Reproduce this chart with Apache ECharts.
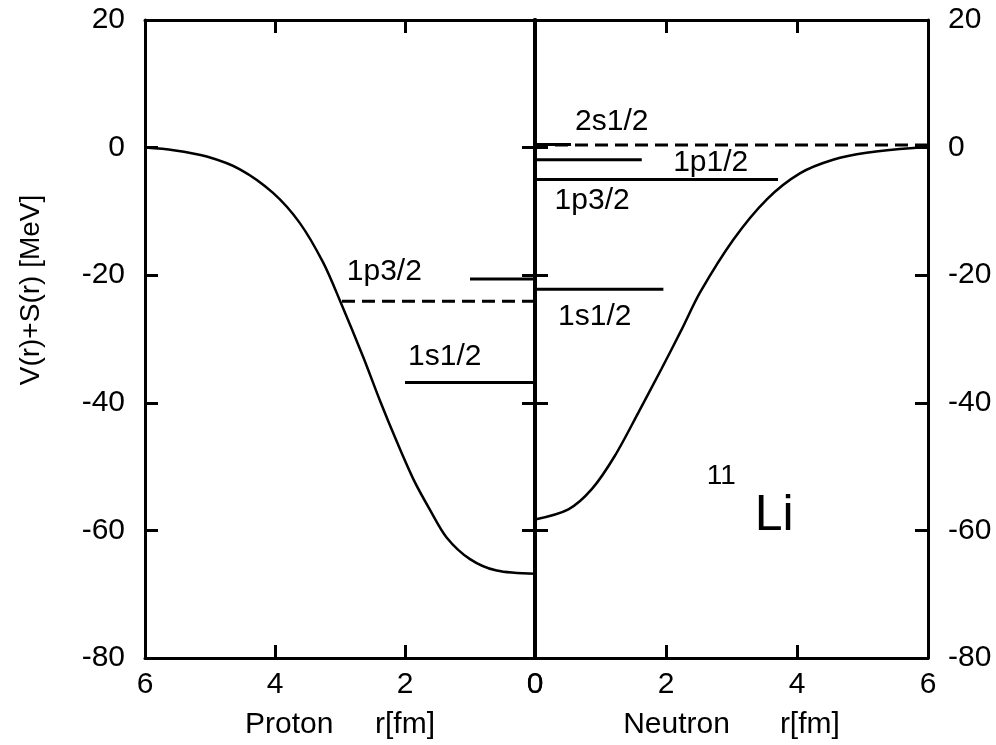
<!DOCTYPE html>
<html>
<head>
<meta charset="utf-8">
<script src="https://cdn.jsdelivr.net/npm/echarts@6/dist/echarts.min.js"></script>
<style>
  html, body { margin: 0; padding: 0; background: #fff; }
  #chart { width: 996px; height: 745px; }
</style>
</head>
<body>
<div id="chart"></div>
<script>
// potential V(r)+S(r) in MeV
const protonR = [6, 5.56, 5.05, 4.54, 4.03, 3.62, 3.26, 3.0, 2.64, 2.38, 2.13, 1.87, 1.62, 1.36, 1.0, 0.59, 0]
const protonV = [0, -0.4, -1.4, -3.4, -7.1, -11.8, -18.0, -24.0, -32.9, -39.8, -46.0, -52.0, -56.7, -61.1, -64.5, -66.3, -66.8]
const neutronR = [0, 0.51, 0.87, 1.22, 1.58, 1.93, 2.24, 2.52, 3.03, 3.54, 4.05, 4.55, 5.06, 5.78, 6]
const neutronV = [-58.3, -56.7, -53.5, -48.3, -41.5, -34.7, -28.5, -22.7, -14.4, -8.1, -4.0, -1.9, -0.8, -0.05, 0]

// levels: energy and how far out (fm) the bar is drawn
const protonSolidE = [-20.6, -36.8]
const protonSolidR = [1.0, 2.0]
const protonDashE = [-24.1]
const protonDashR = [3.0]
const neutronSolidE = [0.5, -1.9, -5.0, -22.2]
const neutronSolidR = [0.55, 1.63, 3.71, 1.96]
const neutronDashE = [0.4]
const neutronDashR = [6]

// level names and where they sit (r, E)
const protonLabels = ['1p3/2', '1s1/2']
const protonLabelAt = [[2.31, -19.6], [1.38, -32.9]]
const neutronLabels = ['2s1/2', '1p1/2', '1p3/2', '1s1/2']
const neutronLabelAt = [[1.18, 3.9], [2.69, -2.5], [0.88, -8.45], [0.92, -26.6]]
const nucleus = ['11', 'Li']
const nucleusAt = [[2.85, -51.6], [3.66, -57.9]]

const rTicks = [0, 2, 4, 6]
const eTicks = [-80, -60, -40, -20, 0, 20]

const FONT = '"Liberation Sans", Arial, Helvetica, sans-serif'
const chart = echarts.init(document.getElementById('chart'))

const tick = { show: true, inside: true, length: 13, lineStyle: { color: '#000', width: 3 } }

const xAx = (grid, pos, inverse, showLabel, name) => ({
  type: 'value', gridIndex: grid, position: pos, inverse,
  min: rTicks[0], max: rTicks[rTicks.length - 1], interval: 2,
  axisLine: { onZero: false, lineStyle: { color: '#000', width: 3 } },
  axisTick: tick,
  splitLine: { show: false },
  axisLabel: { show: showLabel, color: '#000', fontSize: 30, fontFamily: FONT, margin: 12 },
  name: name || '', nameLocation: 'middle', nameGap: 52,
  nameTextStyle: { color: '#000', fontSize: 30, fontFamily: FONT }
})

const yAx = (grid, pos, showLabel, width) => ({
  type: 'value', gridIndex: grid, position: pos,
  min: eTicks[0], max: eTicks[eTicks.length - 1], interval: 20,
  axisLine: { onZero: false, lineStyle: { color: '#000', width: width } },
  axisTick: tick,
  splitLine: { show: false },
  axisLabel: { show: showLabel, color: '#000', fontSize: 30, fontFamily: FONT, margin: 20 }
})

const pairs = (xs, ys) => xs.map((x, i) => [x, ys[i]])

const levelSeries = (xi, yi, es, rs, dashed) => es.map((e, i) => ({
  type: 'line', xAxisIndex: xi, yAxisIndex: yi, symbol: 'none', silent: true,
  data: [[0, e], [rs[i], e]],
  lineStyle: { color: '#000', width: 3, type: dashed ? [13, 7] : 'solid' }
}))

const labelSeries = (xi, yi, names, at, sizes) => ({
  type: 'scatter', xAxisIndex: xi, yAxisIndex: yi, symbolSize: 1, silent: true,
  itemStyle: { color: 'rgba(0,0,0,0)' },
  data: names.map((n, i) => ({
    name: n, value: at[i],
    label: { fontSize: sizes ? sizes[i] : 30, color: '#000' }
  })),
  label: {
    show: true, position: [0, 0], align: 'center', verticalAlign: 'middle',
    formatter: p => p.name, color: '#000', fontFamily: FONT, fontSize: 30,
    textBorderWidth: 0, textBorderColor: 'transparent', opacity: 1
  }
})

const option = {
  animation: false,
  backgroundColor: '#fff',
  grid: [
    { left: 145, top: 20, width: 390, height: 639 },
    { left: 535, top: 20, width: 393, height: 639 }
  ],
  xAxis: [
    xAx(0, 'bottom', true, true, 'Proton     r[fm]'),
    xAx(0, 'top', true, false),
    xAx(1, 'bottom', false, true, 'Neutron      r[fm]'),
    xAx(1, 'top', false, false)
  ],
  yAxis: [
    yAx(0, 'left', true, 3),
    yAx(0, 'right', false, 4),
    yAx(1, 'left', false, 4),
    yAx(1, 'right', true, 3)
  ],
  graphic: [{
    type: 'text', x: 31, y: 290, rotation: Math.PI / 2,
    style: {
      text: 'V(r)+S(r) [MeV]', fill: '#000', font: '28px ' + FONT,
      align: 'center', verticalAlign: 'middle'
    }
  }],
  series: [
    {
      type: 'line', xAxisIndex: 0, yAxisIndex: 0, symbol: 'none', silent: true,
      smooth: 0.3,
      data: pairs(protonR, protonV),
      lineStyle: { color: '#000', width: 2.5 }
    },
    {
      type: 'line', xAxisIndex: 2, yAxisIndex: 2, symbol: 'none', silent: true,
      smooth: 0.3,
      data: pairs(neutronR, neutronV),
      lineStyle: { color: '#000', width: 2.5 }
    },
    ...levelSeries(0, 0, protonSolidE, protonSolidR, false),
    ...levelSeries(0, 0, protonDashE, protonDashR, true),
    ...levelSeries(2, 2, neutronSolidE, neutronSolidR, false),
    ...levelSeries(2, 2, neutronDashE, neutronDashR, true),
    labelSeries(0, 0, protonLabels, protonLabelAt),
    labelSeries(2, 2, neutronLabels, neutronLabelAt),
    labelSeries(2, 2, nucleus, nucleusAt, [28, 50])
  ]
}

chart.setOption(option)
window.addEventListener('resize', () => chart.resize())
</script>
</body>
</html>
